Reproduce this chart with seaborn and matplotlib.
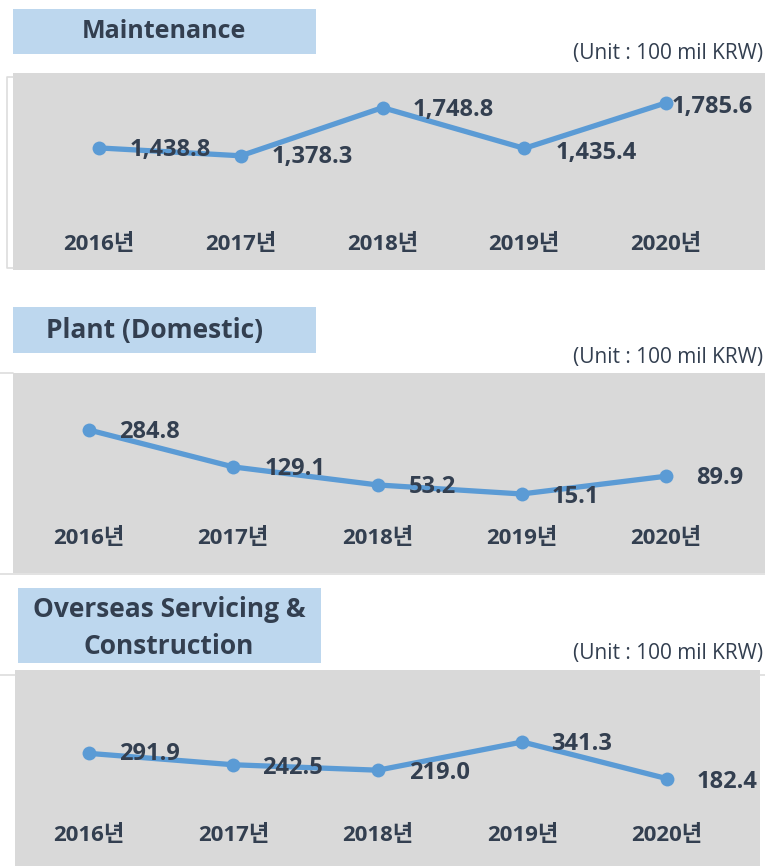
import matplotlib
matplotlib.use('Agg')
import matplotlib.pyplot as plt
import matplotlib.transforms as mtransforms
from matplotlib.patches import Rectangle
from matplotlib.lines import Line2D
import seaborn as sns

# ---- data ----
years = ['2016년', '2017년', '2018년', '2019년', '2020년']
maintenance = [1438.8, 1378.3, 1748.8, 1435.4, 1785.6]
plant_domestic = [284.8, 129.1, 53.2, 15.1, 89.9]
overseas = [291.9, 242.5, 219.0, 341.3, 182.4]
titles = ['Maintenance', 'Plant (Domestic)', 'Overseas Servicing &\nConstruction']
unit_label = '(Unit : 100 mil KRW)'

sns.set_theme(style='white')
plt.rcParams['font.family'] = ['Open Sans', 'Noto Sans CJK KR', 'DejaVu Sans']

W, H = 765, 866
DARK = '#333F50'
LINE = '#5B9BD5'
GRAY = '#D9D9D9'
BOX = '#BDD7EE'
THIN = '#DDDDDD'

fig = plt.figure(figsize=(W / 100, H / 100), dpi=100)


def frac(x0, y0, x1, y1):
    return [x0 / W, 1 - y1 / H, (x1 - x0) / W, (y1 - y0) / H]


panels = [
    dict(values=maintenance, fmt='{:,.1f}', rect=(13, 73, 765, 270),
         xlim=(-0.607, 4.698), ylim=(500, 2015),
         box=(13, 9, 316, 54), tcenter=(164, 32), tsize=18, unit_y=54, year_y=0.13,
         offs=[(31, 2), (31, 1), (30, 2), (31, 5), (6, 4)]),
    dict(values=plant_domestic, fmt='{:.1f}', rect=(13, 373, 765, 573),
         xlim=(-0.527, 4.686), ylim=(-318, 525),
         box=(13, 307, 316, 353), tcenter=(154, 330), tsize=19, unit_y=357, year_y=0.175,
         offs=[(30, 2), (31, 2), (31, 2), (30, 3), (30, 2)]),
    dict(values=overseas, fmt='{:.1f}', rect=(15, 670, 760, 866),
         xlim=(-0.512, 4.644), ylim=(-196, 653),
         box=(18, 588, 321, 663), tcenter=(169, 628), tsize=19, unit_y=653, year_y=0.155,
         offs=[(30, 1), (29, 3), (31, 3), (29, 2), (30, 3)]),
]

for p, title in zip(panels, titles):
    ax = fig.add_axes(frac(*p['rect']))
    ax.set_facecolor(GRAY)
    sns.lineplot(x=years, y=p['values'], ax=ax, color=LINE, linewidth=3.8,
                 marker='o', markersize=10, markeredgewidth=0, sort=False)
    ax.set_xlim(*p['xlim'])
    ax.set_ylim(*p['ylim'])
    ax.set_xticks([])
    ax.set_yticks([])
    ax.set_xlabel('')
    ax.set_ylabel('')
    for s in ax.spines.values():
        s.set_visible(False)
    trans = mtransforms.blended_transform_factory(ax.transData, ax.transAxes)
    for i, yl in enumerate(years):
        ax.text(i, p['year_y'], yl, transform=trans, ha='center', va='center',
                fontsize=16, fontweight='bold', color=DARK)
    for i, (v, (dx, dy)) in enumerate(zip(p['values'], p['offs'])):
        ax.annotate(p['fmt'].format(v), xy=(i, v), xytext=(dx, -dy),
                    textcoords='offset pixels', ha='left', va='center',
                    fontsize=17, fontweight='bold', color=DARK)
    # title box
    bx0, by0, bx1, by1 = p['box']
    fig.add_artist(Rectangle((bx0 / W, 1 - by1 / H), (bx1 - bx0) / W, (by1 - by0) / H,
                             transform=fig.transFigure, facecolor=BOX, edgecolor='none'))
    fig.text(p['tcenter'][0] / W, 1 - p['tcenter'][1] / H, title, ha='center', va='center',
             fontsize=p['tsize'], fontweight='bold', color=DARK, linespacing=1.5)
    fig.text(763 / W, 1 - p['unit_y'] / H, unit_label, ha='right', va='center',
             fontsize=15, color=DARK)


def fline(xs, ys):
    fig.add_artist(Line2D([x / W for x in xs], [1 - y / H for y in ys],
                          transform=fig.transFigure, color=THIN, linewidth=1.2))


# thin frame fragments
fline([13, 7, 7, 13], [77, 77, 268, 268])
fline([0, 13], [373, 373])
fline([0, 765], [574, 574])
fline([0, 15], [675, 675])
fline([760, 765], [675, 675])

fig.savefig('out.png', dpi=100)
